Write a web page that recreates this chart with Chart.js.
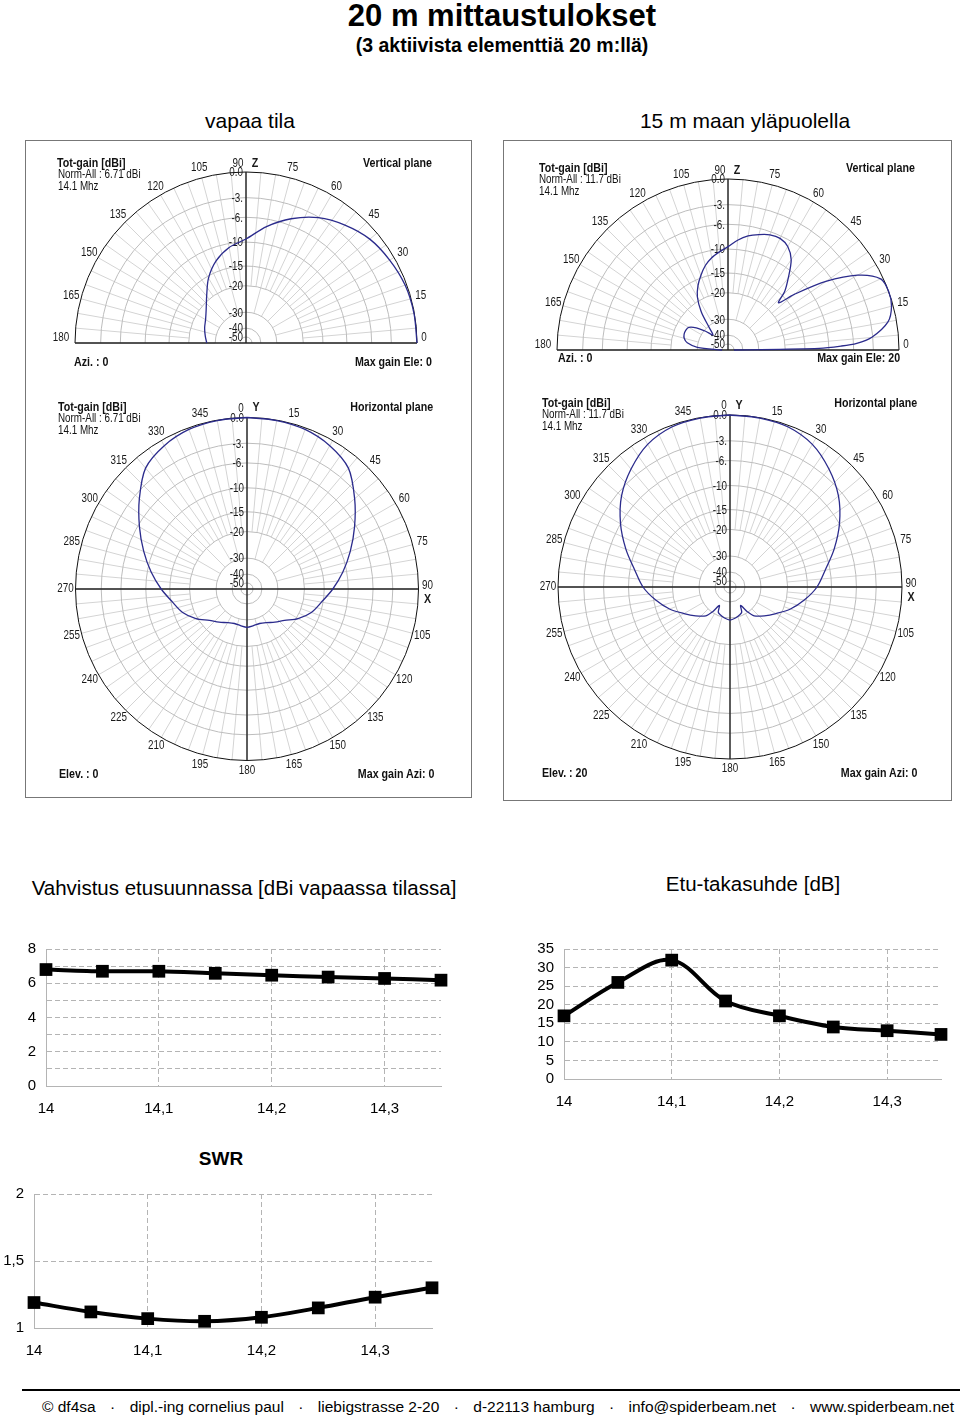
<!DOCTYPE html>
<html lang="fi">
<head>
<meta charset="utf-8">
<title>20 m mittaustulokset</title>
<script src="https://cdn.jsdelivr.net/npm/chart.js@4.4.1/dist/chart.umd.min.js"></script>
<style>
  html, body { margin: 0; padding: 0; background: #fff; }
  body { position: relative; width: 960px; height: 1417px; overflow: hidden;
         font-family: Arial, "Liberation Sans", sans-serif; color: #000; }
  .t { position: absolute; white-space: nowrap; line-height: 1; }
  .mid { width: 600px; text-align: center; }
  .box { position: absolute; box-sizing: border-box; border: 1.5px solid #777; }
  .cv { position: absolute; }
  .note { position: absolute; white-space: nowrap; line-height: 1; font-size: 13px; color: #111; }
  .footer { position: absolute; left: 42px; top: 1399px; width: 912px; display: flex;
            justify-content: space-between; font-size: 15.5px; line-height: 1; }
</style>
</head>
<body>

<div class="t mid" style="left:202px; top:0px; font-size:31px; font-weight:bold;">20 m mittaustulokset</div>
<div class="t mid" style="left:202px; top:36px; font-size:19.5px; font-weight:bold;">(3 aktiivista elementtiä 20 m:llä)</div>

<div class="t mid" style="left:-50px; top:110px; font-size:21px;">vapaa tila</div>
<div class="t mid" style="left:445px; top:110px; font-size:21px;">15 m maan yläpuolella</div>

<div class="box" style="left:25px; top:140px; width:447px; height:658px;"></div>
<div class="box" style="left:503px; top:140px; width:449px; height:661px;"></div>

<div class="cv" style="left:27px; top:142px; width:443px; height:238px;"><canvas id="fsVert"></canvas></div>
<div class="cv" style="left:27px; top:385px; width:443px; height:410px;"><canvas id="fsHor"></canvas></div>
<div class="cv" style="left:505px; top:142px; width:444px; height:240px;"><canvas id="gVert"></canvas></div>
<div class="cv" style="left:505px; top:385px; width:444px; height:412px;"><canvas id="gHor"></canvas></div>

<div class="t mid" style="left:-56px; top:878px; font-size:20.5px;">Vahvistus etusuunnassa [dBi vapaassa tilassa]</div>
<div class="t mid" style="left:453px; top:874px; font-size:20.5px;">Etu-takasuhde [dB]</div>

<div class="cv" style="left:0px; top:930px; width:460px; height:192px;"><canvas id="gainChart"></canvas></div>
<div class="cv" style="left:490px; top:930px; width:470px; height:185px;"><canvas id="fbChart"></canvas></div>

<div class="t mid" style="left:-79px; top:1149px; font-size:19px; font-weight:bold;">SWR</div>
<div class="cv" style="left:0px; top:1175px; width:460px; height:189px;"><canvas id="swrChart"></canvas></div>

<div style="position:absolute; left:22px; top:1389px; width:938px; height:2px; background:#000;"></div>
<div class="footer">
  <span>© df4sa</span><span>·</span><span>dipl.-ing cornelius paul</span><span>·</span>
  <span>liebigstrasse 2-20</span><span>·</span><span>d-22113 hamburg</span><span>·</span>
  <span>info@spiderbeam.net</span><span>·</span><span>www.spiderbeam.net</span>
</div>

<script>
// ---- frequency sweep (MHz) ----
const freqs = [14, 14.05, 14.1, 14.15, 14.2, 14.25, 14.3, 14.35];
const freqTicks = [14, 14.1, 14.2, 14.3];
const gainValues = [6.8, 6.7, 6.7, 6.58, 6.47, 6.36, 6.28, 6.18];   // dBi, free space
const fbValues = [17, 26, 32, 21, 17, 14, 13, 12];                   // dB
const swrValues = [1.19, 1.12, 1.07, 1.05, 1.08, 1.15, 1.23, 1.30];

const gainGrid = [0, 1, 2, 3, 4, 5, 6, 7, 8];
const gainLabels = [0, 2, 4, 6, 8];
const fbGrid = [0, 5, 10, 15, 20, 25, 30, 35];
const swrGrid = [1, 1.5, 2];

// ---- radiation patterns, dB relative to max ----
// polar dB scale (ARRL-like), ring values and their relative radius
const ringDb = [0, -3, -6, -10, -15, -20, -30, -40, -50];
const ringFrac = [1, 0.85, 0.735, 0.59, 0.45, 0.335, 0.18, 0.087, 0.035];
const ringLabels = ['0.0', '-3.', '-6.', '-10', '-15', '-20', '-30', '-40', '-50'];

// free space, vertical plane (elevation 0..180)
const fsVertAngles = [0, 10, 20, 30, 40, 50, 60, 70, 80, 90, 100, 110, 120, 130, 140, 150, 160, 170, 180];
const fsVertGain = [0, -0.05, -0.2, -0.6, -1.1, -2.0, -3.1, -5.0, -7.2, -9.5, -10.8, -12.8, -15.5, -19, -22, -24, -25, -26, -26.8];

// free space, horizontal plane (azimuth 0..360)
const fsHorAngles = [0, 10, 20, 30, 40, 50, 60, 70, 80, 90, 100, 110, 120, 130, 140, 150, 160, 170, 180,
                     190, 200, 210, 220, 230, 240, 250, 260, 270, 280, 290, 300, 310, 320, 330, 340, 350, 360];
const fsHorGain = [0, -0.05, -0.2, -0.7, -1.6, -3.8, -6.3, -8.6, -10.8, -13.2, -15.4, -17.2, -19.6, -23.2, -25.3, -27, -27.8, -27.6, -27.2,
                   -27.6, -27.8, -27, -25.3, -23.2, -19.6, -17.2, -15.4, -13.2, -10.8, -8.6, -6.3, -3.8, -1.6, -0.7, -0.2, -0.05, 0];

// 15 m above ground, vertical plane
const gVertAngles = [0, 1, 2, 3, 5, 10, 15, 20, 25, 30, 35, 40, 43, 46, 50, 55, 60, 65, 70, 75, 80, 85, 90,
                     95, 100, 105, 110, 115, 120, 125, 130, 135, 140, 145, 150, 155, 160, 165, 170, 175, 180];
const gVertGain = [-50, -12, -8, -5.5, -3.2, -1, -0.2, 0, -0.3, -2.5, -7, -13, -17, -14, -11.5, -8.5, -7, -6.4, -6.5, -7, -7.6, -8.5, -9.6,
                   -10.5, -11.5, -12.8, -14.5, -16.5, -19, -24, -31, -36, -31, -27, -24.5, -24, -24, -24.5, -26, -30, -50];

// 15 m above ground, horizontal plane at 20 deg elevation
const gHorAngles = [0, 10, 20, 30, 40, 50, 60, 70, 80, 90, 100, 110, 120, 130, 140, 145, 150, 155, 160, 170, 180,
                    190, 200, 205, 210, 215, 220, 230, 240, 250, 260, 270, 280, 290, 300, 310, 320, 330, 340, 350, 360];
const gHorGain = [0, -0.05, -0.2, -0.85, -2.1, -3.7, -6.0, -8.5, -11.0, -13.0, -15.5, -18.3, -21.7, -24.8, -27.5, -30.5, -36, -32, -31, -29.8, -29.2,
                  -29.8, -31, -32, -36, -30.5, -27.5, -24.8, -21.7, -18.3, -15.5, -13.0, -11.0, -8.5, -6.0, -3.7, -2.1, -0.85, -0.2, -0.05, 0];

Chart.defaults.font.family = 'Arial, "Liberation Sans", sans-serif';
Chart.defaults.color = '#000';

const dbToFrac = db => {
    if (db >= 0) return 1;
    for (let i = 1; i < ringDb.length; i++) {
        if (db >= ringDb[i]) {
            const k = (ringDb[i - 1] - db) / (ringDb[i - 1] - ringDb[i]);
            return ringFrac[i - 1] + k * (ringFrac[i] - ringFrac[i - 1]);
        }
    }
    return ringFrac[ringFrac.length - 1];
};

// narrow text like the original plotting program
const squeezeText = (ctx, text, x, y, align, font) => {
    ctx.save();
    ctx.translate(x, y);
    ctx.scale(0.82, 1);
    ctx.font = font;
    ctx.textAlign = align;
    ctx.textBaseline = 'middle';
    ctx.fillText(text, 0, 0);
    ctx.restore();
};

// --- polar grid drawn on the chart's x/y scales ---
const polarGrid = vertical => ({
    id: 'polarGrid',
    beforeDatasetsDraw(chart) {
        const { ctx, scales: { x, y } } = chart;
        const cx = x.getPixelForValue(0), cy = y.getPixelForValue(0);
        const R = x.getPixelForValue(1) - cx;
        const a0 = vertical ? Math.PI : 0;
        ctx.save();
        ctx.lineWidth = 1;

        // spokes every 5 deg
        ctx.strokeStyle = '#d4d4d4';
        for (let d = 0; d < (vertical ? 181 : 360); d += 5) {
            const t = d * Math.PI / 180;
            const r0 = (d % 15 === 0 ? ringFrac[6] : ringFrac[5]) * R;
            ctx.beginPath();
            ctx.moveTo(cx + r0 * Math.cos(t), cy - r0 * Math.sin(t));
            ctx.lineTo(cx + R * Math.cos(t), cy - R * Math.sin(t));
            ctx.stroke();
        }
        // dB rings
        ctx.strokeStyle = '#bdbdbd';
        for (let i = 1; i < ringFrac.length; i++) {
            ctx.beginPath();
            ctx.arc(cx, cy, ringFrac[i] * R, a0, 2 * Math.PI);
            ctx.stroke();
        }
        ctx.strokeStyle = '#111';
        ctx.beginPath();
        ctx.arc(cx, cy, R, a0, 2 * Math.PI);
        ctx.stroke();

        // axes
        ctx.strokeStyle = '#222';
        ctx.lineWidth = 1.4;
        ctx.beginPath();
        ctx.moveTo(cx - R, cy); ctx.lineTo(cx + R, cy);
        ctx.moveTo(cx, cy - R); ctx.lineTo(cx, vertical ? cy : cy + R);
        ctx.stroke();

        // dB labels along the vertical axis
        ctx.fillStyle = '#1a1a1a';
        ringFrac.forEach((f, i) => squeezeText(ctx, ringLabels[i], cx - 3, cy - f * R + 1, 'right', '12px Arial'));

        // angle labels every 15 deg
        const font = '12px Arial';
        const bold = 'bold 13px Arial';
        for (let a = 0; a < (vertical ? 181 : 360); a += 15) {
            if (vertical) {
                if (a === 90) continue;
                const t = a * Math.PI / 180, d = R + 10;
                if (a === 0) squeezeText(ctx, '0', cx + R + 7, cy - 5, 'center', font);
                else if (a === 180) squeezeText(ctx, '180', cx - R - 14, cy - 5, 'center', font);
                else squeezeText(ctx, String(a), cx + d * Math.cos(t), cy - d * Math.sin(t), 'center', font);
            } else {
                if (a === 0 || a === 90) continue;
                const t = a * Math.PI / 180, d = R + 10;
                squeezeText(ctx, String(a), cx + d * Math.sin(t), cy - d * Math.cos(t), 'center', font);
            }
        }
        if (vertical) {
            squeezeText(ctx, '90', cx - 8, cy - R - 8, 'center', font);
            squeezeText(ctx, 'Z', cx + 9, cy - R - 9, 'center', bold);
        } else {
            squeezeText(ctx, '0', cx - 6, cy - R - 9, 'center', font);
            squeezeText(ctx, 'Y', cx + 9, cy - R - 10, 'center', bold);
            squeezeText(ctx, '90', cx + R + 9, cy - 3, 'center', font);
            squeezeText(ctx, 'X', cx + R + 9, cy + 10, 'center', bold);
        }
        ctx.restore();
    }
});

// canvas rect (page coords), polar centre and radius
const polarChart = (id, rect, center, R, angles, gains, vertical) => {
    const pts = angles.map((a, i) => {
        const r = dbToFrac(gains[i]), t = a * Math.PI / 180;
        return vertical ? { x: r * Math.cos(t), y: r * Math.sin(t) }
                        : { x: r * Math.sin(t), y: r * Math.cos(t) };
    });
    const padding = {
        left: center[0] - R - rect[0],
        right: rect[0] + rect[2] - (center[0] + R),
        top: center[1] - R - rect[1],
        bottom: rect[1] + rect[3] - (vertical ? center[1] : center[1] + R)
    };
    new Chart(document.getElementById(id), {
        type: 'scatter',
        data: {
            datasets: [{
                data: pts,
                showLine: true,
                borderColor: '#2b2b8c',
                borderWidth: 1.3,
                pointRadius: 0,
                tension: 0.3,
                clip: false
            }]
        },
        options: {
            animation: false,
            responsive: true,
            maintainAspectRatio: false,
            layout: { padding },
            plugins: { legend: { display: false }, tooltip: { enabled: false } },
            scales: {
                x: { type: 'linear', min: -1, max: 1, display: false },
                y: { type: 'linear', min: vertical ? 0 : -1, max: 1, display: false }
            }
        },
        plugins: [polarGrid(vertical)]
    });
};

polarChart('fsVert', [27, 142, 443, 238], [246, 343], 171, fsVertAngles, fsVertGain, true);
polarChart('fsHor', [27, 385, 443, 410], [247, 589], 171.5, fsHorAngles, fsHorGain, false);
polarChart('gVert', [505, 142, 444, 240], [728, 350], 171, gVertAngles, gVertGain, true);
polarChart('gHor', [505, 385, 444, 412], [730, 587], 172, gHorAngles, gHorGain, false);

// --- corner notes of the pattern plots ---
const notes = [
    ['Tot-gain [dBi]', 57, 162, 'left', true], ['Norm-All : 6.71 dBi', 58, 174, 'left', false], ['14.1 Mhz', 58, 186, 'left', false],
    ['Vertical plane', 432, 162, 'right', true], ['Azi. : 0', 74, 361, 'left', true], ['Max gain Ele: 0', 432, 361, 'right', true],
    ['Tot-gain [dBi]', 58, 406, 'left', true], ['Norm-All : 6.71 dBi', 58, 418, 'left', false], ['14.1 Mhz', 58, 430, 'left', false],
    ['Horizontal plane', 433, 406, 'right', true], ['Elev. : 0', 59, 773, 'left', true], ['Max gain Azi: 0', 434, 773, 'right', true],
    ['Tot-gain [dBi]', 539, 167, 'left', true], ['Norm-All : 11.7 dBi', 539, 179, 'left', false], ['14.1 Mhz', 539, 191, 'left', false],
    ['Vertical plane', 915, 167, 'right', true], ['Azi. : 0', 558, 357, 'left', true], ['Max gain Ele: 20', 900, 357, 'right', true],
    ['Tot-gain [dBi]', 542, 402, 'left', true], ['Norm-All : 11.7 dBi', 542, 414, 'left', false], ['14.1 Mhz', 542, 426, 'left', false],
    ['Horizontal plane', 917, 402, 'right', true], ['Elev. : 20', 542, 772, 'left', true], ['Max gain Azi: 0', 917, 772, 'right', true]
];
notes.forEach(([text, x, y, align, isBold]) => {
    const el = document.createElement('div');
    el.className = 'note';
    el.textContent = text;
    const fs = isBold ? 13 : 12;
    el.style.fontSize = fs + 'px';
    el.style.fontWeight = isBold ? 'bold' : 'normal';
    el.style.top = (y - fs * 0.49) + 'px';
    if (align === 'left') { el.style.left = x + 'px'; el.style.transformOrigin = 'left center'; }
    else { el.style.right = (960 - x) + 'px'; el.style.transformOrigin = 'right center'; }
    el.style.transform = 'scaleX(0.82)';
    document.body.appendChild(el);
});

// --- frequency line charts ---
const comma = v => String(Math.round(v * 100) / 100).replace('.', ',');
const gridCol = '#b4b4b4';

const lineChart = (id, values, cfg) => {
    new Chart(document.getElementById(id), {
        type: 'line',
        data: {
            datasets: [{
                data: freqs.map((f, i) => ({ x: f, y: values[i] })),
                borderColor: '#000',
                borderWidth: 4,
                pointStyle: 'rect',
                pointRadius: 9,
                pointBackgroundColor: '#000',
                pointBorderWidth: 0,
                tension: cfg.tension,
                clip: false
            }]
        },
        options: {
            animation: false,
            responsive: true,
            maintainAspectRatio: false,
            layout: { padding: cfg.padding },
            plugins: { legend: { display: false }, tooltip: { enabled: false } },
            scales: {
                x: {
                    type: 'linear', min: 14, max: 14.35,
                    afterBuildTicks: s => { s.ticks = freqTicks.map(v => ({ value: v })); },
                    afterFit: s => { s.height = 36; },
                    ticks: { callback: v => comma(v), font: { size: 15 }, padding: 14, maxRotation: 0, autoSkip: false },
                    grid: { color: gridCol, drawTicks: false },
                    border: { color: gridCol, dash: [5, 3] }
                },
                y: {
                    min: cfg.min, max: cfg.max,
                    afterBuildTicks: s => { s.ticks = cfg.grid.map(v => ({ value: v })); },
                    afterFit: s => { s.width = cfg.axisWidth; },
                    ticks: { callback: v => cfg.labels.includes(v) ? comma(v) : '', font: { size: 15 }, padding: 10, autoSkip: false },
                    grid: { color: gridCol, drawTicks: false },
                    border: { color: gridCol, dash: [5, 3] }
                }
            }
        }
    });
};

lineChart('gainChart', gainValues, {
    min: 0, max: 8, grid: gainGrid, labels: gainLabels, axisWidth: 46, tension: 0.3,
    padding: { top: 19, right: 19, left: 0, bottom: 0 }
});
lineChart('fbChart', fbValues, {
    min: 0, max: 35, grid: fbGrid, labels: fbGrid, axisWidth: 74, tension: 0.35,
    padding: { top: 18, right: 19, left: 0, bottom: 0 }
});
lineChart('swrChart', swrValues, {
    min: 1, max: 2, grid: swrGrid, labels: swrGrid, axisWidth: 34, tension: 0.35,
    padding: { top: 18, right: 28, left: 0, bottom: 0 }
});
</script>
</body>
</html>
